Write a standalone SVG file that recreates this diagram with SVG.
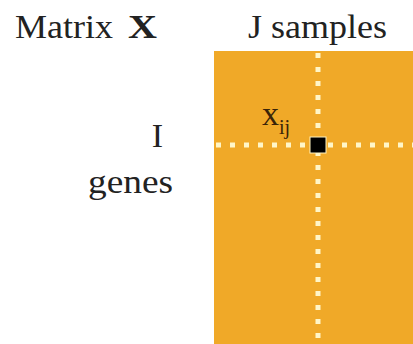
<svg xmlns="http://www.w3.org/2000/svg" width="413" height="344" viewBox="0 0 413 344">
  <defs>
    <style>
      .dots { stroke: #fff6c8; stroke-width: 5; fill: none; stroke-dasharray: 5 9; }
    </style>
  </defs>
  <rect width="413" height="344" fill="#ffffff"/>
  <g id="title">
    <text x="15" y="38" font-family="Liberation Serif, serif" font-size="34" fill="#222" textLength="98" lengthAdjust="spacingAndGlyphs">Matrix</text>
    <text x="128" y="38" font-family="Liberation Serif, serif" font-size="34" font-weight="bold" fill="#222" textLength="29" lengthAdjust="spacingAndGlyphs">X</text>
  </g>
  <g id="samples-label">
    <text x="248" y="38" font-family="Liberation Serif, serif" font-size="34" fill="#222" textLength="139" lengthAdjust="spacingAndGlyphs">J samples</text>
  </g>
  <g id="genes-label">
    <text x="163" y="147" font-family="Liberation Serif, serif" font-size="34" fill="#222" text-anchor="end">I</text>
    <text x="88" y="193" font-family="Liberation Serif, serif" font-size="34" fill="#222" textLength="85" lengthAdjust="spacingAndGlyphs">genes</text>
  </g>
  <g id="matrix">
    <!-- data block with the row and column guides through element (i, j) -->
    <rect x="214" y="51" width="199" height="293" fill="#f0a928"/>
    <line class="dots" x1="318" y1="53" x2="318" y2="344"/>
    <line class="dots" x1="216" y1="145" x2="413" y2="145"/>
    <rect x="310" y="137" width="16" height="16" fill="#000" stroke="#fff3c0" stroke-width="1"/>
  </g>
  <g id="element-label">
    <text x="262" y="125" font-family="Liberation Serif, serif" font-size="34" fill="#3a2408">x<tspan font-size="20" dy="9">ij</tspan></text>
  </g>
</svg>
